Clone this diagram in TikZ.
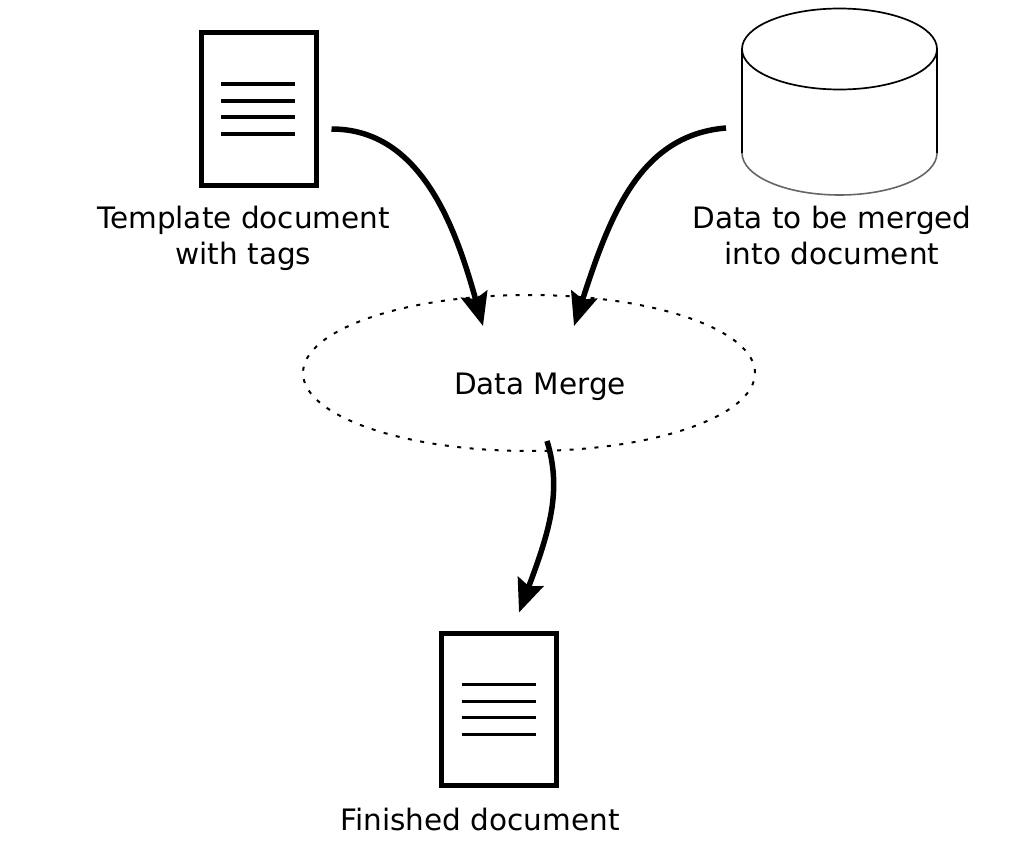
\documentclass[tikz,border=0pt]{standalone}
\usepackage{fontspec}
\setmainfont{DejaVu Sans}
\usetikzlibrary{arrows.meta,positioning,shapes.geometric}

\begin{document}
\begin{tikzpicture}[x=1pt,y=-1pt,
  >={Stealth[length=33pt,width=27pt,inset=5pt]},
  doc/.style={draw,line width=5pt,minimum width=115pt,minimum height=152pt,inner sep=0pt},
  docline/.style={line width=3.4pt},
  lbl/.style={align=center,font=\fontsize{29.5}{36}\selectfont},
  flow/.style={->,line width=5.5pt}]
\useasboundingbox (0,0) rectangle (1024,856);
\node[doc] (tmpl) at (258.5,109) {};
\node[doc] (final) at (499,709.5) {};
\foreach \d in {-25,-8,8,25} {
  \draw[docline] ([shift={(-37.5,\d)}]tmpl.center) -- ++(74,0);
  \draw[docline] ([shift={(-37.5,\d)}]final.center) -- ++(74,0);
}
% cylinder
\node[draw,ellipse,outer sep=0pt,line width=1.7pt,minimum width=195pt,minimum height=81pt,inner sep=0pt] (dbtop) at (839.5,49) {};
\draw[line width=1.7pt] (dbtop.west) -- ++(0,104);
\draw[line width=1.7pt] (dbtop.east) -- ++(0,104);
\draw[line width=1.6pt,black!60] ([yshift=-104pt]dbtop.west) arc[start angle=180,end angle=0,x radius=97.5,y radius=42];
\node[draw,ellipse,dash pattern=on 4pt off 8.5pt,line width=2pt,minimum width=452pt,minimum height=156pt,inner sep=0pt] (merge) at (529,373) {};
\node[lbl] (mergetxt) at (540,386.5) {Data Merge};
\node[lbl] (tmpltxt) at (243.5,238) {Template document\\with tags};
\node[lbl] (dbtxt) at (832,235.5) {Data to be merged\\into document};
\node[lbl] (finaltxt) at (480,819.5) {Finished document};
\coordinate (dbout) at (726,128);
\draw[flow] ([shift={(13,20)}]tmpl.east) .. controls (420,129) and (455,225) .. ([shift={(-46,-47)}]merge.center);
\draw[flow] (dbout) .. controls (640,135) and (610,215) .. ([shift={(45,-47)}]merge.center);
\draw[flow] ([shift={(18,68)}]merge.center) .. controls (562,490) and (550,530) .. ([shift={(20,-97)}]final.center);
\end{tikzpicture}
\end{document}
